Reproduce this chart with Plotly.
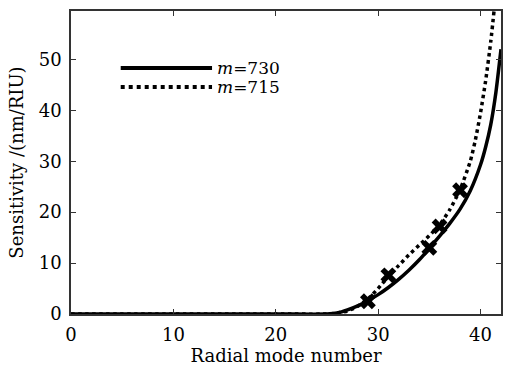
import plotly.graph_objects as go

# Curve data
x730 = [0, 10, 20, 25, 26, 27, 28, 29, 30, 31, 32, 33, 34, 35, 36, 37, 38, 39, 40, 40.5, 41, 41.5, 42]
y730 = [0, 0, 0, 0, 0.2, 0.8, 1.6, 2.6, 3.8, 5.2, 6.8, 8.6, 10.6, 12.9, 15.3, 17.8, 20.6, 24.2, 29.3, 32.8, 37.2, 43.5, 52]

x715 = [0, 10, 20, 25, 26, 27, 28, 29, 30, 31, 32, 33, 34, 35, 36, 37, 38, 39, 39.5, 40, 40.5, 41, 41.5]
y715 = [0, 0, 0, 0, 0.2, 0.6, 1.5, 3.0, 5.0, 7.4, 9.5, 11.6, 13.5, 15.4, 17.5, 20.5, 24.4, 30.0, 34.2, 39.5, 45.8, 53.5, 63]

# Cross markers
mx730 = [29, 35]
my730 = [2.5, 13.0]
mx715 = [31, 36, 38]
my715 = [7.6, 17.2, 24.3]

xticks = [0, 10, 20, 30, 40]
yticks = [0, 10, 20, 30, 40, 50]

FONT = "'DejaVu Serif', 'Liberation Serif', serif"

fig = go.Figure()
fig.add_trace(go.Scatter(x=x730, y=y730, mode="lines",
                         line=dict(color="black", width=3.5, shape="spline", smoothing=0.6),
                         showlegend=False))
fig.add_trace(go.Scatter(x=x715, y=y715, mode="lines",
                         line=dict(color="black", width=3.5, dash="dot", shape="spline", smoothing=0.6),
                         showlegend=False))
fig.add_trace(go.Scatter(x=mx730 + mx715, y=my730 + my715, mode="markers",
                         marker=dict(symbol="x", size=14, color="black"),
                         showlegend=False))

# Legend drawn in paper coords
fig.add_shape(type="line", xref="paper", yref="paper", x0=0.1156, x1=0.328, y0=0.812, y1=0.812,
              line=dict(color="black", width=4))
fig.add_shape(type="line", xref="paper", yref="paper", x0=0.1156, x1=0.328, y0=0.749, y1=0.749,
              line=dict(color="black", width=4, dash="dot"))
fig.add_annotation(xref="paper", yref="paper", x=0.334, y=0.812, text="<i>m</i>=730",
                   showarrow=False, xanchor="left", yanchor="middle",
                   font=dict(family=FONT, size=17, color="black"))
fig.add_annotation(xref="paper", yref="paper", x=0.334, y=0.749, text="<i>m</i>=715",
                   showarrow=False, xanchor="left", yanchor="middle",
                   font=dict(family=FONT, size=17, color="black"))

axis_common = dict(showline=True, linecolor="#333", linewidth=1.5, mirror="ticks",
                   ticks="inside", ticklen=5, tickcolor="#333", showgrid=False, zeroline=False,
                   tickfont=dict(family=FONT, size=18, color="black"))
fig.update_xaxes(range=[0, 42], tickvals=xticks, ticklabelstandoff=4,
                 title=dict(text="Radial mode number", font=dict(family=FONT, size=18, color="black"), standoff=2),
                 **axis_common)
fig.update_yaxes(range=[0, 59.5], tickvals=yticks, ticklabelstandoff=4,
                 title=dict(text="Sensitivity /(nm/RIU)", font=dict(family=FONT, size=18, color="black"), standoff=10),
                 **axis_common)

fig.update_layout(width=505, height=367, margin=dict(l=71, r=2, t=11, b=53),
                  plot_bgcolor="white", paper_bgcolor="white")
fig.write_html("out.html")
